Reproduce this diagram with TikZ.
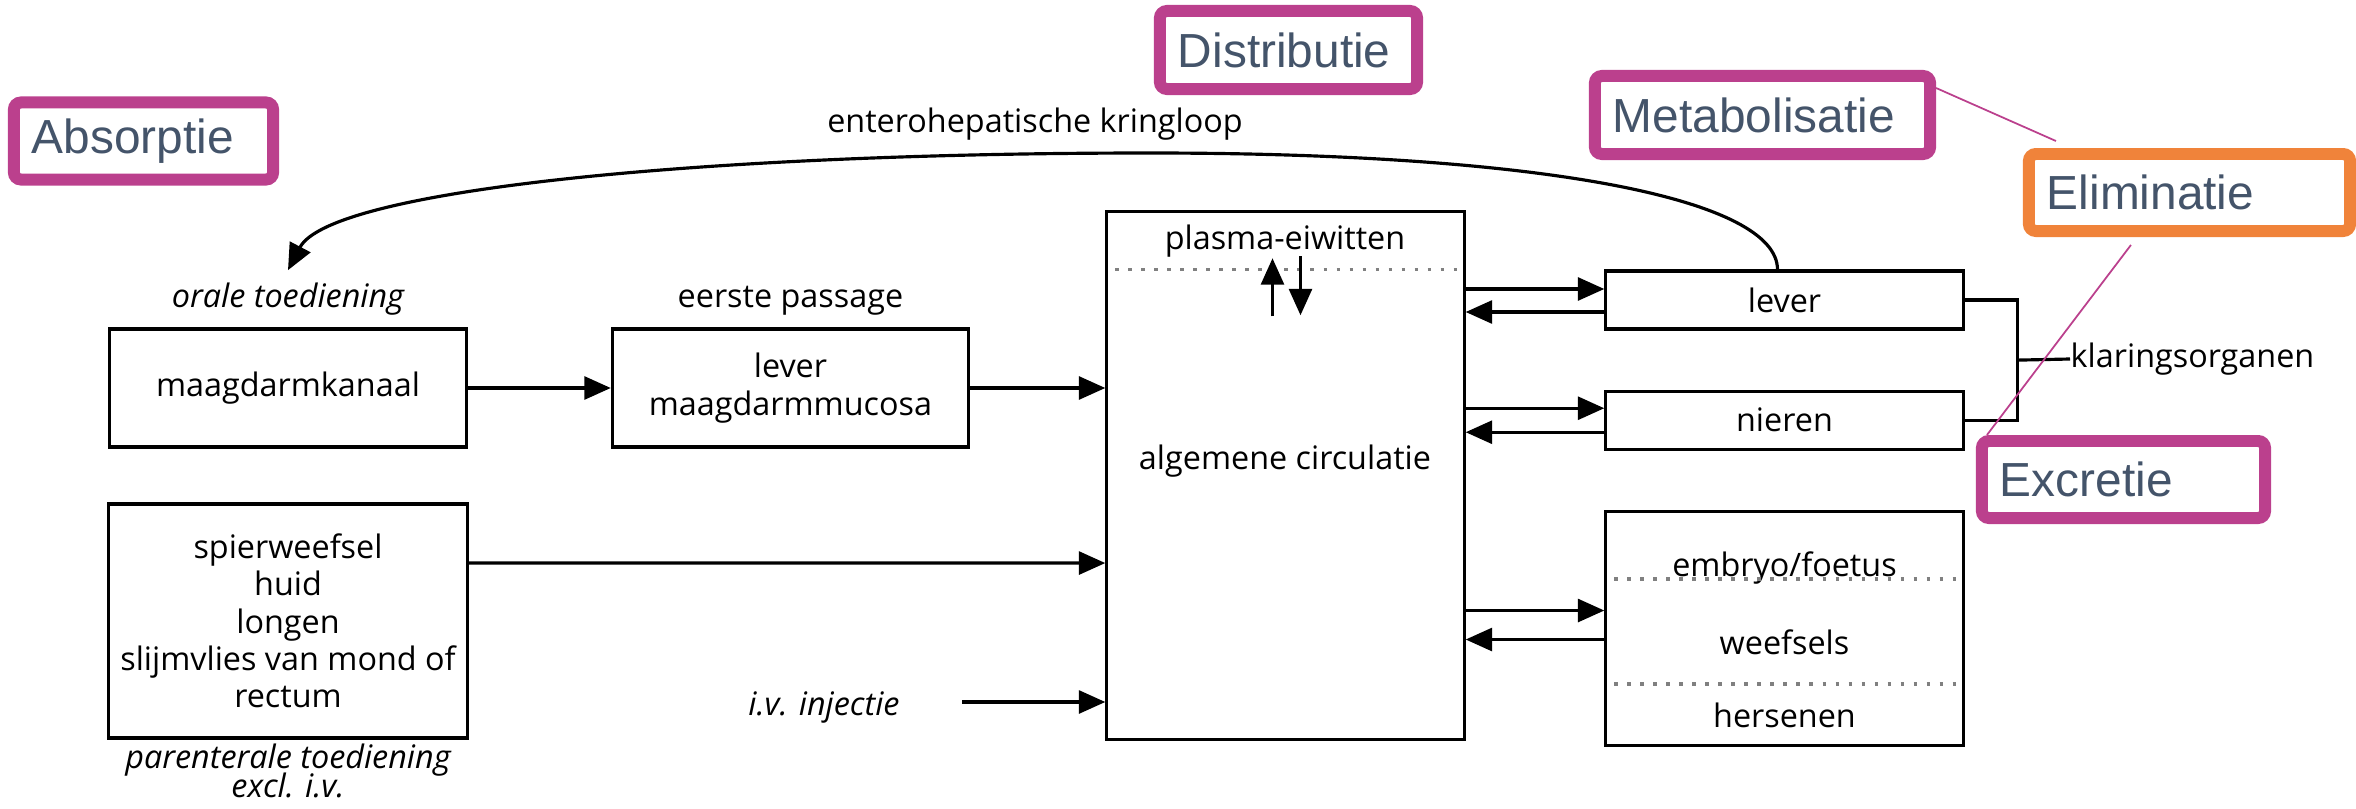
\documentclass[tikz,border=0pt]{standalone}
\usepackage{fontspec}
\setmainfont{Open Sans}
\newfontfamily\tagfont{Liberation Sans}
\usetikzlibrary{arrows.meta,positioning,calc}
\definecolor{tagpink}{RGB}{187,64,141}
\definecolor{tagorange}{RGB}{240,131,58}
\definecolor{slate}{RGB}{68,84,106}

\begin{document}
\begin{tikzpicture}[x=0.01cm, y=-0.01cm,
  >={Triangle[length=7.5pt,width=6.5pt]},
  node distance=0.59cm and 1.43cm,
  every node/.style = {font=\fontsize{9.2}{10.6}\selectfont},
  ital/.style   = {font=\fontsize{9.2}{10.6}\selectfont\itshape, align=center},
  box/.style    = {rectangle, draw, line width=0.9pt,
                   minimum width=3.56cm, align=center},
  arrow/.style  = {->, line width=0.9pt},
  dotline/.style = {gray, line width=1pt, dash pattern=on 1pt off 2.7pt},
  tag/.style    = {rectangle, draw=tagpink, line width=3.4pt,
                   rounded corners=2pt, fill=white, text=slate,
                   font=\tagfont\fontsize{13.6}{16}\selectfont,
                   align=left, inner xsep=0.18cm, minimum height=0.77cm},
  pinkline/.style = {tagpink, line width=0.5pt},
]
  \useasboundingbox (0,0) rectangle (2356,809);

  % toediening
  \node[box, minimum height=1.18cm] (mdk) at (288,388) {maagdarmkanaal};
  \node[box, minimum height=1.18cm, right=of mdk] (fp)
    {lever\\maagdarmmucosa};
  \node[ital, above=0pt of mdk] (oral) {orale toediening};
  \node[above=0pt of fp] (first) {eerste passage};
  \node[box, minimum height=2.34cm] (par) at (288,621)
    {spierweefsel\\huid\\longen\\slijmvlies van mond of\\rectum};
  \node[ital, below=0.5pt of par, inner ysep=0.5pt] (parlab)
    {parenterale toediening\\[-2.2pt]excl. i.v.};
  \node[ital] (iv) at (824,708) {i.v. injectie};
  \coordinate (ivtail) at ($(iv.east)+(50,-6)$);

  % algemene circulatie
  \node[box, minimum width=3.57cm, minimum height=5.27cm] (circ)
    at (1285.5,475.5) {};
  \node (plasma) at (1285,241) {plasma-eiwitten};
  \node (algcirc) at (1285,461) {algemene circulatie};
  \draw[dotline] ($(circ.north west)+(10,59)$) -- ($(circ.north east)+(0,59)$);
  \draw[arrow] ($(circ.north)+(-13,106)$) -- ($(circ.north)+(-13,48)$);
  \draw[arrow] ($(circ.north)+(15,46)$) -- ($(circ.north)+(15,105)$);

  % organen
  \node[box, minimum width=3.57cm, minimum height=0.58cm] (lever)
    at (1784.5,300) {lever};
  \node[box, minimum width=3.57cm, minimum height=0.58cm,
        below=of lever] (nieren) {nieren};
  \node[box, minimum width=3.57cm, minimum height=2.34cm,
        below=of nieren] (tissue) {};
  \node (embryo) at ($(tissue.north)+(0,58)$) {embryo/foetus};
  \node (weefsels) at ($(tissue.north)+(0,132)$) {weefsels};
  \node (hersenen) at ($(tissue.north)+(0,205)$) {hersenen};
  \draw[dotline] ($(tissue.north west)+(10,69)$) -- ($(tissue.north east)+(0,69)$);
  \draw[dotline] ($(tissue.north west)+(10,174)$) -- ($(tissue.north east)+(0,174)$);

  \node[anchor=west, inner xsep=0pt] (klaring) at (2070,359) {klaringsorganen};
  \node (kring) at (1035,124) {enterohepatische kringloop};

  % pijlen
  \draw[arrow] (mdk) -- (fp);
  \draw[arrow] (fp.east) -- (fp.east -| circ.west);
  \draw[arrow] ([yshift=5.8mm]par.east) -- ([yshift=-8.75mm]circ.west);
  \draw[arrow] (ivtail) -- (ivtail -| circ.west);
  \foreach \n/\a/\b in {lever/-11/12, nieren/-12/12, tissue/-18/11} {
    \draw[arrow] ($(circ.east |- \n.west)+(0,\a)$) -- ($(\n.west)+(0,\a)$);
    \draw[arrow] ($(\n.west)+(0,\b)$) -- ($(circ.east |- \n.west)+(0,\b)$);
  }
  \draw[line width=0.9pt] (lever.east) -- ++(53,0) |- (nieren.east);
  \draw[line width=0.9pt] ($(lever.east)!0.5!(nieren.east)+(53,0)$)
    -- (klaring.west);

  % enterohepatische kringloop
  \draw[arrow] ($(lever.north)+(-7,0)$)
    .. controls (1777,200) and (1550,153) .. (1150,153)
    .. controls (700,153) and (330,190) .. (oral.north);

  % fasen
  \node[tag, text width=2.23cm] (absorptie) at (143.5,141) {Absorptie};
  \node[tag, text width=2.21cm, minimum height=0.78cm] (distributie)
    at (1288.5,50) {Distributie};
  \node[tag, text width=2.99cm, minimum height=0.78cm] (metab)
    at (1762.5,115) {Metabolisatie};
  \node[tag, draw=tagorange, text width=2.85cm] (elim)
    at (2189.5,192.5) {Eliminatie};
  \node[tag, text width=2.47cm] (excr) at (2123.5,479.5) {Excretie};

  \draw[pinkline] ($(metab.north east)!0.2!(metab.south east)$)
    -- ($(elim.north west)+(33,-7)$);
  \draw[pinkline] ($(elim.south west)+(108,8)$) -- ($(excr.north west)+(11,0)$);
\end{tikzpicture}
\end{document}
